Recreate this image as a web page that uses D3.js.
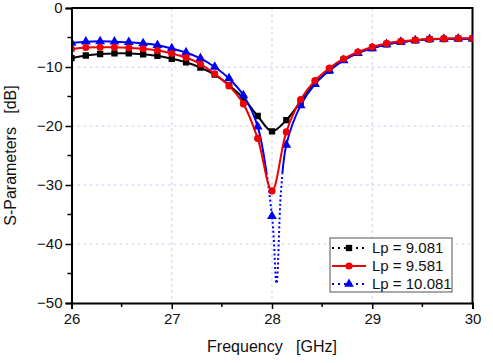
<!DOCTYPE html>
<html>
<head>
<meta charset="utf-8">
<script src="https://cdn.jsdelivr.net/npm/d3@7"></script>
<style>
  body { margin: 0; background: #fff; }
  text { font-family: "Liberation Sans", Arial, sans-serif; fill: #111; }
</style>
</head>
<body>
<div id="chart"></div>
<script>
// Sample frequencies (GHz), step 1/7
var freqs = d3.range(29).map(k => 26 + k / 7);

// S11 values (dB)
var lp9081 = [-8.5, -8.05, -7.8, -7.7, -7.7, -7.85, -8.1, -8.6, -9.2, -10.1, -11.3, -13.1, -15.3, -18.3, -20.9,
  -19.0, -15.9, -12.7, -10.6, -8.8, -7.6, -6.8, -6.15, -5.75, -5.5, -5.3, -5.25, -5.2, -5.2];
var lp9581 = [-6.95, -6.7, -6.65, -6.65, -6.75, -6.9, -7.2, -7.7, -8.4, -9.5, -11.15, -13.2, -16.25, -22.1, -31.0,
  -21.0, -15.5, -12.3, -10.2, -8.6, -7.45, -6.6, -6.0, -5.65, -5.42, -5.25, -5.2, -5.15, -5.15];
var lp10081 = [-5.9, -5.7, -5.65, -5.7, -5.8, -6.0, -6.3, -6.85, -7.55, -8.55, -10.0, -11.95, -14.8, -20.1, -35.3,
  -23.2, -16.5, -12.9, -10.6, -8.9, -7.65, -6.85, -6.15, -5.75, -5.5, -5.3, -5.25, -5.2, -5.2];
// extra points of the deep blue notch (no markers)
var notchFreq = [28.045, 28.09];
var notchVal = [-46.7, -31.0];

var seriesNames = ["Lp = 9.081", "Lp = 9.581", "Lp = 10.081"];
var xTicks = [26, 27, 28, 29, 30];
var yTicks = [0, -10, -20, -30, -40, -50];

var svgWidth = 493, svgHeight = 363;
var margin = { top: 8, right: 20.5, bottom: 60, left: 71.5 };
var chartWidth = svgWidth - margin.left - margin.right;
var chartHeight = svgHeight - margin.top - margin.bottom;

var svg = d3.select("#chart").append("svg")
  .attr("width", svgWidth)
  .attr("height", svgHeight);

var chartGroup = svg.append("g")
  .attr("transform", `translate(${margin.left}, ${margin.top})`);

var xScale = d3.scaleLinear().domain([26, 30]).range([0, chartWidth]);
var yScale = d3.scaleLinear().domain([-50, 0]).range([chartHeight, 0]);

// clip regions
var defs = svg.append("defs");
defs.append("clipPath").attr("id", "plotClip")
  .append("rect").attr("width", chartWidth).attr("height", chartHeight);
defs.append("clipPath").attr("id", "upperClip")
  .append("rect").attr("width", chartWidth).attr("height", yScale(-28));
defs.append("clipPath").attr("id", "lowerClip")
  .append("rect").attr("y", yScale(-28)).attr("width", chartWidth).attr("height", chartHeight - yScale(-28));

// dashed grid
chartGroup.append("g").selectAll("line").data([27, 28, 29]).enter().append("line")
  .attr("x1", d => xScale(d)).attr("x2", d => xScale(d))
  .attr("y1", 0).attr("y2", chartHeight)
  .attr("stroke", "#c9d3ee").attr("stroke-dasharray", "3,3");
chartGroup.append("g").selectAll("line").data([-10, -20, -30, -40]).enter().append("line")
  .attr("y1", d => yScale(d)).attr("y2", d => yScale(d))
  .attr("x1", 0).attr("x2", chartWidth)
  .attr("stroke", "#c9d3ee").attr("stroke-dasharray", "3,3");

// frame (top and right)
chartGroup.append("path")
  .attr("d", `M0,0H${chartWidth}V${chartHeight}`)
  .attr("fill", "none").attr("stroke", "#000").attr("stroke-width", 2);

var line = d3.line()
  .x(d => xScale(d[0]))
  .y(d => yScale(d[1]))
  .curve(d3.curveCatmullRom.alpha(0.5));

var blackPts = freqs.map((f, i) => [f, lp9081[i]]);
var redPts = freqs.map((f, i) => [f, lp9581[i]]);
var bluePts = freqs.map((f, i) => [f, lp10081[i]]);
var blueLine = bluePts.slice(0, 15)
  .concat(notchFreq.map((f, i) => [f, notchVal[i]]))
  .concat(bluePts.slice(15));

var plot = chartGroup.append("g").attr("clip-path", "url(#plotClip)");

function drawSeries(pts, color, shape) {
  var sym = d3.symbol().type(shape).size(shape === d3.symbolTriangle ? 42 : 40);
  plot.append("g").selectAll("path")
    .data(pts).enter().append("path")
    .attr("transform", d => `translate(${xScale(d[0])},${yScale(d[1])})`)
    .attr("d", sym)
    .attr("fill", color);
}

plot.append("path").datum(blackPts).attr("d", line)
  .attr("fill", "none").attr("stroke", "#000").attr("stroke-width", 2);
drawSeries(blackPts, "#000", d3.symbolSquare);

plot.append("path").datum(blueLine).attr("d", line)
  .attr("clip-path", "url(#upperClip)")
  .attr("fill", "none").attr("stroke", "#0000f0").attr("stroke-width", 2);
plot.append("path").datum(blueLine).attr("d", line)
  .attr("clip-path", "url(#lowerClip)")
  .attr("fill", "none").attr("stroke", "#0000f0").attr("stroke-width", 2)
  .attr("stroke-dasharray", "2,2.5");
drawSeries(bluePts, "#0000f0", d3.symbolTriangle);

plot.append("path").datum(redPts).attr("d", line)
  .attr("fill", "none").attr("stroke", "#f00000").attr("stroke-width", 2);
drawSeries(redPts, "#f00000", d3.symbolCircle);

// axes
var bottomAxis = d3.axisBottom(xScale).tickValues(xTicks).tickFormat(d3.format("d")).tickSize(6).tickPadding(4);
var leftAxis = d3.axisLeft(yScale).tickValues(yTicks).tickFormat(d3.format("d")).tickSize(6).tickPadding(3);

var xAxisG = chartGroup.append("g")
  .attr("transform", `translate(0, ${chartHeight})`)
  .call(bottomAxis);
xAxisG.append("g").selectAll("line").data([26.5, 27.5, 28.5, 29.5]).enter().append("line")
  .attr("x1", d => xScale(d)).attr("x2", d => xScale(d))
  .attr("y1", 0).attr("y2", 4).attr("stroke", "#000").attr("stroke-width", 1.5);

var yAxisG = chartGroup.append("g").call(leftAxis);
yAxisG.append("g").selectAll("line").data([-5, -15, -25, -35, -45]).enter().append("line")
  .attr("y1", d => yScale(d)).attr("y2", d => yScale(d))
  .attr("x1", 0).attr("x2", -4).attr("stroke", "#000").attr("stroke-width", 1.5);

[xAxisG, yAxisG].forEach(function(g) {
  g.select(".domain").attr("stroke", "#000").attr("stroke-width", 2);
  g.selectAll(".tick line").attr("stroke", "#000").attr("stroke-width", 1.5);
  g.selectAll(".tick text").attr("font-size", "15px").attr("fill", "#111")
    .style("font-family", "'Liberation Sans', Arial, sans-serif");
});

// axis titles
svg.append("text")
  .attr("x", margin.left + chartWidth / 2)
  .attr("y", 352)
  .attr("text-anchor", "middle")
  .attr("font-size", "16px")
  .style("white-space", "pre")
  .text("Frequency   [GHz]");

svg.append("text")
  .attr("transform", `translate(16, ${margin.top + chartHeight / 2}) rotate(-90)`)
  .attr("text-anchor", "middle")
  .attr("font-size", "16px")
  .style("white-space", "pre")
  .text("S-Parameters   [dB]");

// legend
var legend = svg.append("g").attr("transform", "translate(330, 238)");
legend.append("rect")
  .attr("width", 122).attr("height", 54)
  .attr("fill", "#fff").attr("stroke", "#555").attr("stroke-width", 1);

var legendItems = [
  { color: "#000", shape: d3.symbolSquare, dash: "2,4" },
  { color: "#f00000", shape: d3.symbolCircle, dash: null },
  { color: "#0000f0", shape: d3.symbolTriangle, dash: "2,4" }
];

legendItems.forEach(function(item, i) {
  var yy = 10 + i * 18;
  legend.append("line")
    .attr("x1", 2).attr("x2", 36).attr("y1", yy).attr("y2", yy)
    .attr("stroke", item.color).attr("stroke-width", 2)
    .attr("stroke-dasharray", item.dash);
  legend.append("path")
    .attr("transform", `translate(19, ${yy})`)
    .attr("d", d3.symbol().type(item.shape).size(40))
    .attr("fill", item.color);
  legend.append("text")
    .attr("x", 42).attr("y", yy + 5)
    .attr("font-size", "15px")
    .text(seriesNames[i]);
});
</script>
</body>
</html>
